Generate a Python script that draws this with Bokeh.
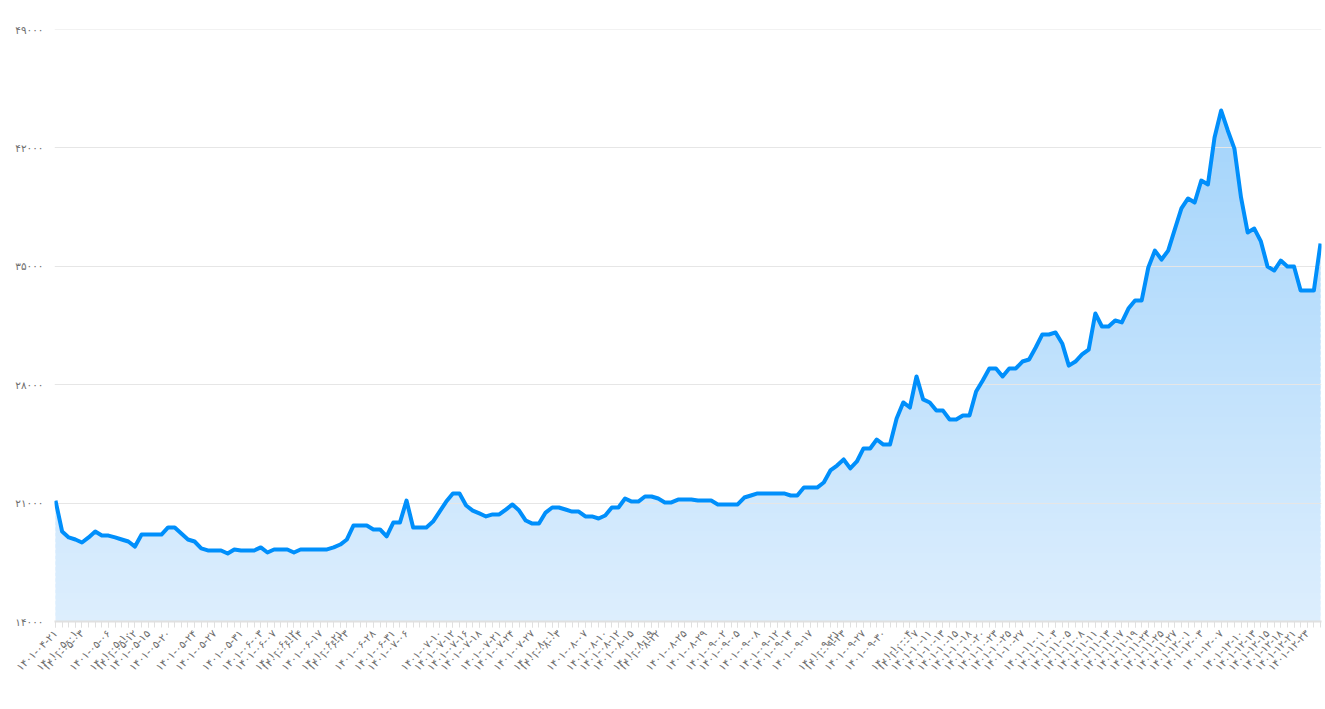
import math
import numpy as np
from bokeh.plotting import figure
from bokeh.models import FixedTicker, Range1d
from bokeh.embed import file_html
from bokeh.resources import INLINE

# ---- data ----
values = [
    21150, 19320, 18970, 18850, 18670, 18970, 19320, 19080, 19080, 18970,
    18850, 18730, 18430, 19140, 19140, 19140, 19140, 19560, 19560, 19200,
    18850, 18730, 18320, 18200, 18200, 18200, 18020, 18260, 18200, 18200,
    18200, 18380, 18080, 18260, 18260, 18260, 18080, 18260, 18260, 18260,
    18260, 18260, 18380, 18550, 18850, 19680, 19680, 19680, 19440, 19440,
    19030, 19850, 19850, 21150, 19560, 19560, 19560, 19910, 20500, 21090,
    21570, 21570, 20860, 20560, 20390, 20210, 20330, 20330, 20620, 20920,
    20560, 19970, 19790, 19790, 20440, 20740, 20740, 20620, 20500, 20500,
    20210, 20210, 20090, 20270, 20740, 20740, 21270, 21090, 21090, 21390,
    21390, 21270, 21040, 21040, 21210, 21210, 21210, 21150, 21150, 21150,
    20920, 20920, 20920, 20920, 21330, 21450, 21570, 21570, 21570, 21570,
    21570, 21450, 21450, 21920, 21920, 21920, 22220, 22930, 23220, 23580,
    23050, 23460, 24230, 24230, 24760, 24460, 24460, 26000, 26950, 26650,
    28490, 27130, 26950, 26470, 26470, 25940, 25940, 26180, 26180, 27600,
    28250, 28960, 28960, 28490, 28960, 28960, 29370, 29490, 30200, 30970,
    30970, 31090, 30440, 29130, 29370, 29790, 30080, 32210, 31440, 31440,
    31800, 31680, 32500, 32980, 32980, 34930, 35930, 35400, 35930, 37180,
    38420, 39010, 38770, 40070, 39840, 42610, 44210, 43030, 41960, 39070,
    37000, 37230, 36470, 34990, 34750, 35340, 34990, 34990, 33570, 33570,
    33570, 36350,
]

tick_index = [
    0, 3, 4, 8, 11, 12, 14, 17, 21, 24,
    28, 31, 33, 36, 37, 40, 43, 44, 48, 51,
    53, 58, 60, 62, 64, 67, 69, 72, 75, 76,
    80, 83, 85, 87, 90, 91, 95, 98, 101, 103,
    106, 109, 111, 114, 118, 119, 122, 125, 129, 130,
    132, 134, 136, 138, 140, 142, 144, 146, 149, 151,
    153, 155, 157, 159, 161, 163, 165, 167, 169, 171,
    173, 176, 179, 181, 183, 185, 187, 189,
]
tick_dates = [
    "1401-04-21", "1401-05-01", "1401-05-03", "1401-05-06", "1401-05-10",
    "1401-05-12", "1401-05-15", "1401-05-20", "1401-05-24", "1401-05-27",
    "1401-05-31", "1401-06-03", "1401-06-07", "1401-06-12", "1401-06-14",
    "1401-06-17", "1401-06-21", "1401-06-23", "1401-06-28", "1401-06-31",
    "1401-07-06", "1401-07-10", "1401-07-12", "1401-07-16", "1401-07-18",
    "1401-07-21", "1401-07-24", "1401-07-27", "1401-08-01", "1401-08-03",
    "1401-08-07", "1401-08-10", "1401-08-12", "1401-08-15", "1401-08-19",
    "1401-08-22", "1401-08-25", "1401-08-29", "1401-09-02", "1401-09-05",
    "1401-09-08", "1401-09-12", "1401-09-14", "1401-09-17", "1401-09-21",
    "1401-09-23", "1401-09-27", "1401-09-30", "1401-10-04", "1401-10-07",
    "1401-10-11", "1401-10-13", "1401-10-15", "1401-10-18", "1401-10-20",
    "1401-10-23", "1401-10-25", "1401-10-27", "1401-11-01", "1401-11-03",
    "1401-11-05", "1401-11-08", "1401-11-11", "1401-11-13", "1401-11-17",
    "1401-11-19", "1401-11-23", "1401-11-25", "1401-11-27", "1401-12-01",
    "1401-12-03", "1401-12-07", "1401-12-10", "1401-12-13", "1401-12-15",
    "1401-12-18", "1401-12-21", "1401-12-23",
]
y_ticks = [14000, 21000, 28000, 35000, 42000, 49000]

FA = str.maketrans("0123456789", "۰۱۲۳۴۵۶۷۸۹")


def fa(s):
    return str(s).translate(FA)


n = len(values)
x = list(range(n))
y_min, y_max = y_ticks[0], y_ticks[-1]
pad = 0.15

p = figure(
    width=1322, height=705, output_backend="svg", toolbar_location=None,
    x_range=Range1d(-pad, n - 1 + pad), y_range=Range1d(y_min, y_max),
    min_border_left=54, min_border_right=1, min_border_top=29, min_border_bottom=84,
)
p.outline_line_color = None
p.background_fill_color = "white"
p.border_fill_color = "white"
p.xgrid.grid_line_color = None
p.ygrid.grid_line_color = None

# vertical gradient fill under the line (bands, then white mask above the line)
top_rgb = np.array([163, 212, 251])
bot_rgb = np.array([221, 238, 253])
nb = 90
edges = np.linspace(y_min, max(values), nb + 1)
step = edges[1] - edges[0]
cols = []
for k in range(nb):
    t = (k + 0.5) / nb
    c = bot_rgb + (top_rgb - bot_rgb) * t
    cols.append("#%02x%02x%02x" % tuple(int(round(v)) for v in c))
p.quad(left=0, right=n - 1, bottom=edges[:-1], top=edges[1:] + step * 0.6,
       fill_color=cols, line_color=None)
# mask extends past both ends so no seam shows at the edges
mx = [-3] + x + [n + 2]
my = [values[0]] + values + [values[-1]]
p.varea(x=mx, y1=my, y2=[y_max + 5000] * len(mx), fill_color="white")

# horizontal grid lines
p.hspan(y=y_ticks[1:], line_color="#e6e6e6", line_width=1)

# the series line
p.line(x, values, line_color="#008FFB", line_width=4, line_join="round")

# axes
font = "DejaVu Sans"
ya = p.yaxis[0]
ya.ticker = FixedTicker(ticks=y_ticks)
ya.major_label_overrides = {t: fa(t) for t in y_ticks}
ya.axis_line_color = None
ya.major_tick_line_color = None
ya.minor_tick_line_color = None
ya.major_tick_out = 0
ya.major_tick_in = 0
ya.minor_tick_out = 0
ya.minor_tick_in = 0
ya.major_label_text_font = font
ya.major_label_text_font_size = "10.5px"
ya.major_label_text_color = "#6e6e6e"
ya.major_label_standoff = 11

xa = p.xaxis[0]
xa.ticker = FixedTicker(ticks=tick_index, minor_ticks=x)
xa.major_label_overrides = {i: fa(d) for i, d in zip(tick_index, tick_dates)}
xa.axis_line_color = "#e0e0e0"
xa.axis_line_width = 2
xa.major_tick_line_color = "#e0e0e0"
xa.minor_tick_line_color = "#e0e0e0"
xa.major_tick_in = 0
xa.major_tick_out = 6
xa.minor_tick_in = 0
xa.minor_tick_out = 6
xa.major_label_orientation = math.pi / 4
xa.major_label_text_font = font
xa.major_label_text_font_size = "10.5px"
xa.major_label_text_color = "#6e6e6e"
xa.major_label_standoff = 4

open("out.html", "w").write(file_html(p, INLINE))
